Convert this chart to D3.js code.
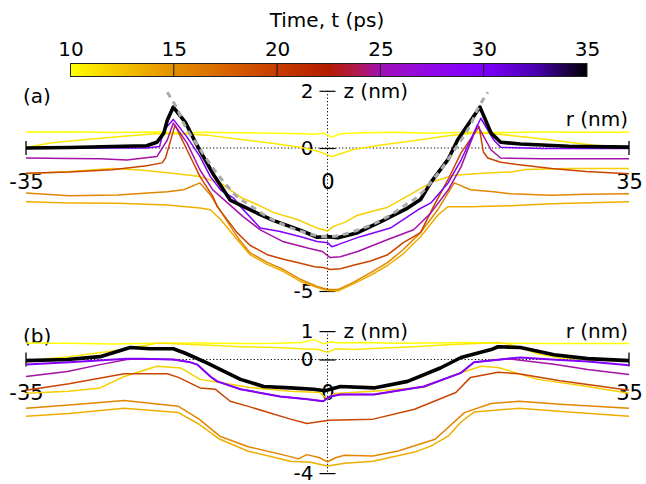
<!DOCTYPE html>
<html><head><meta charset="utf-8">
<script src="https://cdn.jsdelivr.net/npm/d3@7"></script>
<style>body{margin:0;background:#fff}svg{display:block}text{font-family:"DejaVu Sans",sans-serif;fill:#000}</style>
</head><body><svg id="c" width="646" height="484"></svg>
<script>
// ---- colour map (time, ps) ----
const cmapT = [10, 12.5, 15, 17.5, 20, 22.5, 24, 25, 27.5, 30, 32.5, 35];
const cmapC = ["#ffff00","#f4c400","#e48e00","#d86400","#c73c00","#b41c00","#b01858","#a010b8","#9008e8","#7f00ff","#4a00b0","#000000"];
const cbarTicks = [10, 15, 20, 25, 30, 35];

// ---- panel (a): z(r) profiles, [r (nm), z (nm)] ----
const aT10 = [[-35,0.56],[-30,0.57],[-25,0.54],[-20,0.56],[-17,0.52],[-15,0.55],[-10,0.53],[-6,0.52],[-3,0.5],[-1.5,0.48],[-0.5,0.52],[0.5,0.38],[1.5,0.5],[4,0.53],[8,0.55],[12,0.52],[16,0.55],[20,0.54],[25,0.56],[30,0.55],[35,0.55]];
const aT11 = [[-35,0.02],[-32,0.18],[-28,0.3],[-24,0.4],[-20,0.5],[-17,0.5],[-14,0.45],[-10,0.3],[-6,0.15],[-3,0.02],[-1,-0.12],[0.5,-0.3],[1.5,-0.2],[3,-0.05],[6,0.1],[10,0.25],[14,0.43],[17.4,0.53],[20,0.48],[24,0.35],[28,0.2],[31,0.1],[35,0.03]];
const aT12 = [[-35,-0.9],[-30,-0.82],[-25,-0.72],[-21.7,-0.77],[-18,-0.88],[-14.8,-1.0],[-12.4,-1.23],[-10.1,-1.72],[-8,-2.0],[-6.3,-2.25],[-3.5,-2.5],[-1.2,-2.8],[0,-2.9],[0.7,-2.74],[2,-2.6],[3.5,-2.35],[7,-2.07],[10.5,-1.47],[12,-1.2],[14.7,-0.95],[18,-0.88],[21.3,-0.84],[23,-0.75],[28,-0.72],[35,-0.72]];
const aT13 = [[-35,-1.88],[-30,-1.92],[-24.4,-1.93],[-18.6,-1.99],[-14.8,-2.1],[-13.6,-2.16],[-12.4,-2.5],[-10.5,-3.2],[-9,-3.73],[-7,-4.07],[-5.1,-4.32],[-3.1,-4.67],[-1.2,-4.88],[0,-4.98],[1.2,-5.0],[3,-4.75],[5,-4.45],[7,-4.1],[8.8,-3.7],[10.8,-3.1],[12.8,-2.35],[14,-2.05],[16.6,-2.05],[21.3,-2.02],[26,-1.95],[35,-1.88]];
const aT15 = [[-35,-1.57],[-30,-1.67],[-24.4,-1.64],[-18.6,-1.53],[-16.7,-1.46],[-14.8,-1.22],[-13.6,-1.64],[-12,-2.4],[-10.5,-3.1],[-9,-3.66],[-7,-4.0],[-5.1,-4.25],[-3.1,-4.6],[-1.2,-4.84],[0,-4.95],[1.2,-4.95],[3,-4.7],[5,-4.36],[7,-4.0],[8.8,-3.55],[10.8,-2.96],[12.8,-2.16],[14.7,-1.22],[16.6,-1.46],[19.3,-1.53],[21.3,-1.6],[26,-1.65],[30,-1.62],[35,-1.6]];
const aT20 = [[-35,-0.88],[-30,-0.84],[-25,-0.76],[-21,-0.62],[-19.2,-0.52],[-18.8,-0.35],[-17.7,0.8],[-16.3,-0.07],[-14.8,-1.0],[-13.3,-1.7],[-12.8,-2.05],[-10.5,-2.96],[-9,-3.4],[-7,-3.73],[-5,-3.9],[-3.5,-4.0],[-1.5,-4.15],[-0.5,-4.18],[0.3,-4.25],[1.5,-4.22],[3,-4.1],[5,-3.95],[7,-3.73],[8.8,-3.31],[10.8,-2.96],[12.3,-2.05],[14,-1.1],[15.5,-0.17],[17.6,0.75],[18.1,-0.14],[18.6,-0.35],[20.1,-0.5],[22,-0.58],[26,-0.72],[30,-0.82],[35,-0.9]];
const aT25 = [[-35,-0.35],[-30,-0.37],[-26.4,-0.38],[-23.3,-0.42],[-19.8,-0.3],[-18.6,0.28],[-17.9,0.87],[-16.3,0.17],[-14.8,-0.77],[-13.3,-1.47],[-11.6,-1.92],[-9.8,-2.4],[-7.8,-2.86],[-5.1,-3.28],[-2.3,-3.5],[-0.6,-3.62],[0.3,-3.83],[1.5,-3.8],[3.5,-3.62],[7,-3.2],[10,-2.86],[12,-2.27],[14,-1.47],[15.5,-0.66],[17.4,0.8],[19,-0.07],[20.1,-0.35],[25,-0.38],[30,-0.38],[35,-0.38]];
const aT30 = [[-35,-0.01],[-28,0.0],[-21,0.0],[-19.5,0.05],[-19,0.62],[-17.9,1.0],[-16.3,0.38],[-14.8,-0.3],[-13.6,-1.0],[-12.4,-1.47],[-10.9,-1.75],[-10.1,-2.05],[-7.8,-2.8],[-5.5,-2.92],[-3.1,-3.1],[-1.2,-3.27],[0,-3.31],[0.5,-3.45],[1.2,-3.38],[3.8,-3.1],[7.3,-2.8],[10.5,-2.16],[12,-1.92],[14,-1.22],[15.5,-0.42],[16.6,0.28],[17.8,1.04],[19.3,0.28],[20.1,0.03],[25,-0.02],[35,-0.02]];
const aT35 = [[-35,0.0],[-30,0.02],[-25,0.05],[-21,0.08],[-19.8,0.2],[-19,0.52],[-18.6,0.97],[-17.9,1.43],[-16.5,0.9],[-15.3,0.18],[-13.3,-0.9],[-11.3,-1.82],[-10.1,-2.0],[-8,-2.3],[-6.3,-2.53],[-3.1,-2.88],[-1.2,-3.12],[0,-3.1],[1.2,-3.14],[3.5,-2.96],[6.2,-2.57],[9.3,-2.1],[10.8,-1.8],[12,-1.2],[14,-0.4],[15.1,0.28],[17.7,1.43],[19,0.52],[20.1,0.2],[22.4,0.14],[28,0.06],[35,0.03]];
const aFit = [[-18.6,1.95],[-17.5,1.4],[-16.5,0.75],[-15,0.05],[-13.3,-0.7],[-12,-1.2],[-10.5,-1.7],[-9,-2.0],[-7,-2.4],[-5,-2.7],[-3,-2.92],[-1.5,-3.05],[0,-3.1],[1.5,-3.05],[3,-2.92],[5,-2.7],[7,-2.4],[9,-2.0],[10.5,-1.7],[12,-1.2],[13.3,-0.7],[15,0.05],[16.5,0.75],[17.5,1.4],[18.6,1.95]];

// ---- panel (b) ----
const bT10 = [[-35,0.58],[-30,0.57],[-25,0.55],[-20,0.57],[-15,0.58],[-10,0.56],[-6,0.57],[-3,0.6],[-1.5,0.7],[-0.5,0.55],[0.5,0.62],[1.5,0.58],[4,0.6],[8,0.57],[12,0.58],[16,0.6],[20,0.57],[25,0.56],[30,0.56],[35,0.56]];
const bT11 = [[-35,-0.04],[-30,0.1],[-25,0.3],[-21,0.5],[-19.8,0.58],[-15,0.52],[-10,0.45],[-6,0.42],[-3,0.38],[-1,0.35],[0,0.25],[1,0.38],[3,0.35],[6,0.4],[10,0.45],[14,0.52],[19.8,0.6],[21,0.55],[24.4,0.2],[27,0.05],[30,0.0],[35,-0.05]];
const bT12 = [[-35,-1.19],[-30,-1.12],[-26.4,-1.0],[-23.6,-0.6],[-19.8,-0.24],[-17,-0.3],[-14.8,-0.7],[-12.5,-0.81],[-9.2,-0.98],[-4.3,-1.12],[-0.9,-1.16],[0,-1.4],[0.8,-1.2],[5.3,-1.12],[11.2,-0.98],[14.9,-0.53],[17.8,-0.24],[19.8,-0.28],[24.4,-0.7],[30.2,-0.95],[35,-1.19]];
const bT13 = [[-35,-2.0],[-30,-1.9],[-23.6,-1.72],[-17.3,-1.87],[-14.9,-2.28],[-12.5,-2.81],[-9.2,-3.23],[-4.3,-3.58],[-2,-3.62],[0,-3.75],[2,-3.65],[5.3,-3.58],[10.1,-3.26],[12,-3.05],[14,-2.7],[15.5,-2.2],[17,-1.85],[22.2,-1.72],[28,-1.85],[35,-2.0]];
const bT15 = [[-35,-1.72],[-30,-1.6],[-23.6,-1.44],[-17.3,-1.65],[-14.9,-2.1],[-12.5,-2.7],[-9.2,-3.07],[-4.3,-3.42],[-3.4,-3.5],[-2.4,-3.35],[-1,-3.45],[0,-3.6],[1,-3.45],[2,-3.37],[5.3,-3.4],[8.2,-3.22],[12.5,-2.81],[15.9,-1.87],[19,-1.55],[22.2,-1.47],[27,-1.58],[35,-1.72]];
const bT20 = [[-35,-1.08],[-30,-0.85],[-23.6,-0.5],[-18.6,-0.5],[-17.3,-0.63],[-14.8,-1.0],[-13,-1.05],[-11.3,-1.47],[-9.2,-1.65],[-4.3,-2.1],[-2.4,-2.25],[0.2,-2.14],[5.3,-2.1],[10.1,-1.75],[14.9,-1.16],[16.6,-0.63],[19.8,-0.45],[22.2,-0.5],[27,-0.75],[30.2,-0.88],[35,-1.08]];
const bT25 = [[-35,-0.6],[-30.2,-0.42],[-26.4,-0.18],[-23.3,0.0],[-21.7,0.03],[-17.9,0.0],[-15.9,-0.1],[-15.1,-0.18],[-13.6,-0.6],[-12.8,-0.77],[-10.1,-1.05],[-5.5,-1.3],[-2.3,-1.4],[-0.5,-1.47],[0.3,-1.3],[1.5,-1.23],[5.4,-1.23],[11.2,-0.95],[15.5,-0.47],[17,-0.1],[20.9,0.03],[22.4,-0.03],[26.3,-0.17],[30.2,-0.35],[35,-0.53]];
const bT30 = [[-35,-0.18],[-30,-0.1],[-23.3,0.03],[-21.7,0.03],[-17.9,0.0],[-15.9,-0.1],[-15.1,-0.18],[-13.6,-0.6],[-12.8,-0.77],[-10.1,-1.05],[-5.5,-1.3],[-2.3,-1.4],[-0.5,-1.47],[0.3,-1.3],[1.5,-1.23],[5.4,-1.23],[11.2,-0.95],[15.5,-0.47],[17,-0.1],[20.9,0.03],[22.4,0.07],[26,0.0],[30.2,-0.07],[35,-0.2]];
const bT35 = [[-35,-0.04],[-30.2,0.0],[-26.4,0.1],[-22.9,0.42],[-20.6,0.38],[-17.9,0.38],[-16.5,0.22],[-14,-0.12],[-12,-0.42],[-10.1,-0.7],[-7.4,-0.95],[-4.3,-1.0],[-1.6,-1.05],[-0.3,-1.1],[1.5,-0.95],[5.4,-1.0],[9.3,-0.77],[13.1,-0.3],[15.5,0.07],[19,0.35],[19.8,0.45],[22.4,0.42],[26.3,0.17],[30.2,0.03],[35,-0.04]];

// times assigned to each profile
const timesA = [10, 11, 12, 13.5, 15.5, 19.5, 24.8, 29.5, 35];
const seriesA = [aT10, aT11, aT12, aT13, aT15, aT20, aT25, aT30, aT35];
const seriesB = [bT10, bT11, bT12, bT13, bT15, bT20, bT25, bT30, bT35];

const svg = d3.select("#c");
const cmap = d3.scaleLinear().domain(cmapT).range(cmapC).interpolate(d3.interpolateRgb);
const fmt = d => String(d);

// ---- colour bar ----
const cb = d3.scaleLinear().domain([10, 35]).range([70.5, 587]);
const grad = svg.append("defs").append("linearGradient").attr("id","g").attr("x1","0%").attr("x2","100%");
cmapT.forEach((t,i)=>grad.append("stop").attr("offset",((t-10)/25*100)+"%").attr("stop-color",cmapC[i]));
svg.append("text").attr("x",327).attr("y",27).attr("text-anchor","middle").style("font-size","20px").text("Time, t (ps)");
svg.append("rect").attr("x",cb(10)).attr("y",63.5).attr("width",cb(35)-cb(10)).attr("height",13).attr("fill","url(#g)").attr("stroke","#222").attr("stroke-width",1);
const cbAxis = d3.axisTop(cb).tickValues(cbarTicks).tickSize(0).tickPadding(8).tickFormat(fmt);
const cbg = svg.append("g").attr("transform","translate(0,63.5)").call(cbAxis);
cbg.select(".domain").remove();
cbg.selectAll("text").style("font-size","20px").attr("font-family","DejaVu Sans");
svg.selectAll("line.cbt").data(cbarTicks.slice(1,-1)).enter().append("line").attr("class","cbt")
  .attr("x1",d=>cb(d)).attr("x2",d=>cb(d)).attr("y1",63.5).attr("y2",76.5).attr("stroke","#111").attr("stroke-width",1);

// ---- panels ----
const x = d3.scaleLinear().domain([-35,35]).range([26,629]);
function panel(y0, k, zTop, zBot, series, label, fit){
  const y = d3.scaleLinear().domain([0,1]).range([y0, y0-k]);
  const g = svg.append("g");
  g.append("line").attr("x1",x(-35)).attr("x2",x(35)).attr("y1",y(0)).attr("y2",y(0)).attr("stroke","#000").attr("stroke-width",1).attr("stroke-dasharray","1.2,2.2");
  g.append("line").attr("x1",x(0)).attr("x2",x(0)).attr("y1",y(zTop)).attr("y2",y(zBot)).attr("stroke","#000").attr("stroke-width",1).attr("stroke-dasharray","1.2,2.2");
  [-35,35].forEach(r=>g.append("line").attr("x1",x(r)).attr("x2",x(r)).attr("y1",y(0)-7).attr("y2",y(0)+7).attr("stroke","#000").attr("stroke-width",1.3));
  const ya = d3.axisLeft(y).tickValues([zTop,0,zBot]).tickSize(16).tickPadding(6).tickFormat(fmt);
  const yg = g.append("g").attr("transform",`translate(${x(0)+8},0)`).call(ya);
  yg.select(".domain").remove();
  yg.selectAll("line").attr("stroke","#000").attr("stroke-width",1.2);
  yg.selectAll("text").style("font-size","20px").attr("font-family","DejaVu Sans");
  const xa = d3.axisBottom(x).tickValues([-35,0,35]).tickSize(0).tickPadding(26).tickFormat(fmt);
  const xg = g.append("g").attr("transform",`translate(0,${y(0)})`).call(xa);
  xg.select(".domain").remove();
  xg.selectAll("text").style("font-size","21px").attr("font-family","DejaVu Sans");
  g.append("text").attr("x",x(0)+16).attr("y",y(zTop)).attr("dy","0.35em").style("font-size","20px").text("z (nm)");
  g.append("text").attr("x",628).attr("y",y(0)-29).attr("dy","0.35em").attr("text-anchor","end").style("font-size","20px").text("r (nm)");
  g.append("text").attr("x",23).attr("y",y(zTop)+5).attr("dy","0.35em").style("font-size","20px").text(label);
  const line = d3.line().x(d=>x(d[0])).y(d=>y(d[1]));
  series.forEach((s,i)=>{
    const t = timesA[i];
    g.append("path").datum(s).attr("d",line).attr("fill","none")
      .attr("stroke",cmap(t)).attr("stroke-width", t===35 ? 3.6 : (t>=29 && !fit ? 2 : 1.5))
      .attr("stroke-linejoin","round");
  });
  if(fit){
    g.append("path").datum(fit).attr("d",d3.line().x(d=>x(d[0])).y(d=>y(d[1])).curve(d3.curveCatmullRom))
      .attr("fill","none").attr("stroke","#aaaaaa").attr("stroke-width",3).attr("stroke-dasharray","6,5");
  }
}
panel(148, 28.6, 2, -5, seriesA, "(a)", aFit);
panel(359.5, 28.4, 1, -4, seriesB, "(b)", null);
</script></body></html>
